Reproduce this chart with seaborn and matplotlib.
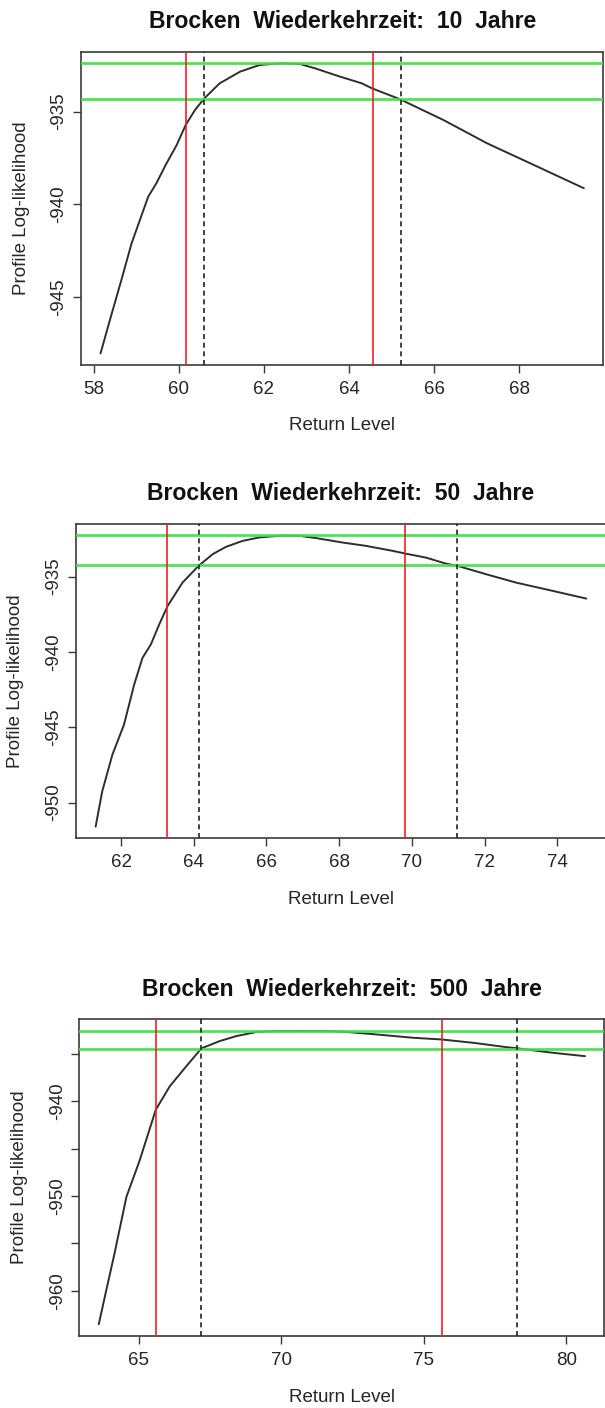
import numpy as np
import pandas as pd
import matplotlib
matplotlib.use("Agg")
import matplotlib.pyplot as plt
import seaborn as sns

# ---------------- data ----------------
titles = ["Brocken  Wiederkehrzeit:  10  Jahre",
          "Brocken  Wiederkehrzeit:  50  Jahre",
          "Brocken  Wiederkehrzeit:  500  Jahre"]

rl10 = [58.16, 58.38, 58.65, 58.89, 59.28, 59.47, 59.71, 59.95, 60.16, 60.38,
        60.60, 60.96, 61.44, 61.90, 62.40, 62.85, 63.20, 63.79, 64.30, 64.54,
        65.20, 66.22, 67.24, 68.34, 69.52]
ll10 = [-948.04, -946.24, -944.08, -942.10, -939.59, -938.87, -937.79, -936.80,
        -935.72, -934.91, -934.28, -933.47, -932.84, -932.48, -932.39, -932.43,
        -932.66, -933.11, -933.47, -933.74, -934.33, -935.45, -936.70, -937.87,
        -939.13]

rl50 = [61.30, 61.48, 61.76, 62.08, 62.36, 62.59, 62.82, 63.05, 63.28, 63.69,
        64.13, 64.52, 64.88, 65.34, 65.80, 66.40, 66.90, 67.36, 68.10, 68.74,
        69.47, 69.82, 70.39, 70.94, 71.26, 72.04, 72.87, 73.88, 74.80]
ll50 = [-951.60, -949.27, -946.83, -944.83, -942.17, -940.39, -939.50, -938.17,
        -936.95, -935.40, -934.29, -933.51, -933.03, -932.63, -932.40, -932.28,
        -932.29, -932.44, -932.74, -932.96, -933.29, -933.47, -933.74, -934.14,
        -934.29, -934.84, -935.40, -935.95, -936.46]

rl500 = [63.60, 63.86, 64.15, 64.57, 65.04, 65.60, 66.09, 66.67, 67.20, 67.84,
         68.43, 69.13, 69.60, 70.70, 71.80, 72.34, 73.34, 74.62, 75.62, 76.73,
         77.90, 78.28, 78.60, 79.54, 80.65]
ll500 = [-963.52, -959.98, -956.10, -950.09, -946.20, -940.90, -938.43, -936.31,
         -934.43, -933.66, -933.13, -932.70, -932.62, -932.60, -932.62, -932.71,
         -932.96, -933.31, -933.49, -933.84, -934.30, -934.42, -934.55, -934.90,
         -935.25]

# horizontal reference levels (max and max - chi2/2)
hlines10 = [-932.39, -934.31]
hlines50 = [-932.27, -934.25]
hlines500 = [-932.60, -934.45]

# normal-approximation CI (red) and profile CI (dashed)
ci_norm10 = [60.16, 64.56]
ci_prof10 = [60.60, 65.22]
ci_norm50 = [63.27, 69.82]
ci_prof50 = [64.13, 71.24]
ci_norm500 = [65.60, 75.62]
ci_prof500 = [67.20, 78.28]

xticks10 = [58, 60, 62, 64, 66, 68]
xticks50 = [62, 64, 66, 68, 70, 72, 74]
xticks500 = [65, 70, 75, 80]
yticks10 = [-935, -940, -945]
ylabels10 = ["-935", "-940", "-945"]
yticks50 = [-935, -940, -945, -950]
ylabels50 = ["-935", "-940", "-945", "-950"]
yticks500 = [-935, -940, -945, -950, -955, -960]
ylabels500 = ["", "-940", "", "-950", "", "-960"]

# ---------------- style ----------------
sns.set_theme(style="ticks")
plt.rcParams["font.family"] = ["Liberation Sans", "DejaVu Sans"]
plt.rcParams["axes.unicode_minus"] = False

W, H = 605, 1408
fig = plt.figure(figsize=(W / 100, H / 100), dpi=100)

# axes rectangles in pixels: left, right, top, bottom
rects_px = [(81.2, 603.2, 51.7, 365.0),
            (76.0, 606.0, 524.0, 838.3),
            (79.3, 604.4, 1019.3, 1336.0)]

panels = [
    (rl10, ll10, hlines10, ci_norm10, ci_prof10, xticks10, yticks10, ylabels10),
    (rl50, ll50, hlines50, ci_norm50, ci_prof50, xticks50, yticks50, ylabels50),
    (rl500, ll500, hlines500, ci_norm500, ci_prof500, xticks500, yticks500, ylabels500),
]

curve_col = "#2e2e2e"
red_col = "#f02020"
green_col = "#44e044"
spine_col = "#3a3a3a"
text_col = "#262626"

for i, (rl, ll, hl, cin, cip, xt, yt, ylab) in enumerate(panels):
    l, r, t, b = rects_px[i]
    axw, axh = r - l, b - t
    ax = fig.add_axes([l / W, 1 - b / H, axw / W, axh / H])
    df = pd.DataFrame({"Return Level": rl, "Profile Log-likelihood": ll})
    sns.lineplot(data=df, x="Return Level", y="Profile Log-likelihood", ax=ax,
                 color=curve_col, linewidth=1.4, sort=False, errorbar=None, zorder=2)
    for h in hl:
        ax.axhline(h, color=green_col, linewidth=2.0, alpha=0.92, zorder=3)
    for v in cin:
        ax.axvline(v, color=red_col, linewidth=1.2, zorder=4)
    for v in cip:
        ax.axvline(v, color="#222222", linewidth=1.2, linestyle=(0, (3, 2.2)), zorder=5)

    xmin, xmax = min(rl), max(rl)
    ymin, ymax = min(ll), max(ll)
    dx, dy = (xmax - xmin) * 0.04, (ymax - ymin) * 0.04
    ax.set_xlim(xmin - dx, xmax + dx)
    ax.set_ylim(ymin - dy, ymax + dy)

    ax.set_xticks(xt)
    ax.set_xticklabels([str(v) for v in xt])
    ax.set_yticks(yt)
    ax.set_yticklabels(ylab)

    for s in ax.spines.values():
        s.set_visible(True)
        s.set_color(spine_col)
        s.set_linewidth(1.2)

    ax.tick_params(axis="both", direction="out", length=5.8, width=1.0,
                   color=spine_col, labelsize=13.5, labelcolor=text_col)
    ax.tick_params(axis="x", pad=5.5)
    ax.tick_params(axis="y", pad=4)
    plt.setp(ax.get_yticklabels(), rotation=90, va="center", ha="right")

    ax.set_xlabel("Return Level", fontsize=13.5, color=text_col)
    ax.set_ylabel("Profile Log-likelihood", fontsize=13.5, color=text_col)
    ax.xaxis.set_label_coords(0.5, -61.0 / axh)
    ax.xaxis.label.set_va("center")
    ax.yaxis.set_label_coords(-60.0 / axw, 0.5)
    ax.yaxis.label.set_va("center")
    ax.yaxis.label.set_ha("center")

    ax.set_title(titles[i], fontsize=16.6, fontweight="bold", color="#111111",
                 y=1 + 30.0 / axh, pad=0, va="center")
    ax.grid(False)

fig.savefig("out.png", dpi=100, facecolor="white")
